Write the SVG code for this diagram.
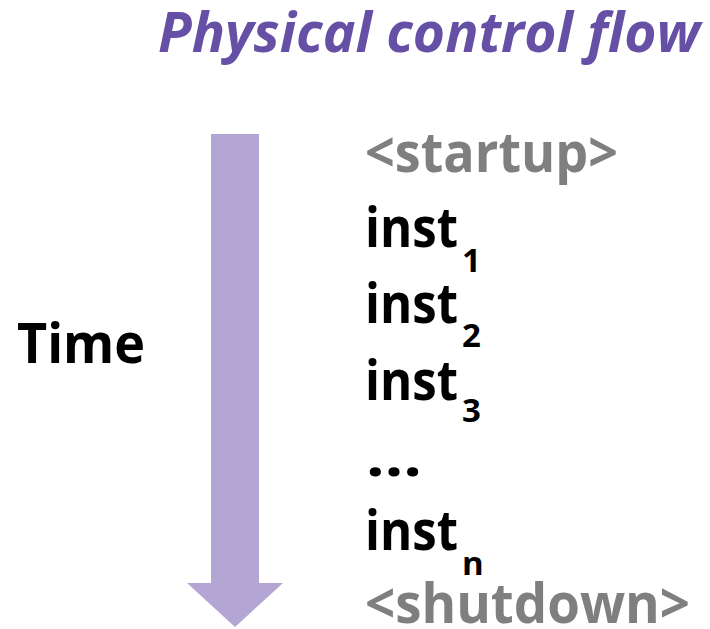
<svg xmlns="http://www.w3.org/2000/svg" width="710" height="629" viewBox="0 0 710 629">
  <style>
    .title { font-family: "Open Sans", "Liberation Sans", sans-serif; font-weight: 700; font-style: italic; font-size: 56px; fill: #6650A6; }
    .lbl { font-family: "Open Sans", "Liberation Sans", sans-serif; font-weight: 700; font-size: 56px; fill: #000000; }
    .gray { fill: #7F7F7F; }
    .sub { font-family: "Open Sans", "Liberation Sans", sans-serif; font-weight: 700; font-size: 33px; fill: #000000; }
  </style>
  <rect width="710" height="629" fill="#FFFFFF"/>

  <text class="title" x="158" y="52" textLength="542" lengthAdjust="spacingAndGlyphs">Physical control flow</text>

  <!-- time axis -->
  <g id="connectors">
    <polygon points="211,134 259,134 259,583 283,583 235,627 187,583 211,583" fill="#B3A6D4"/>
  </g>

  <g id="time">
    <text class="lbl" x="17" y="363" textLength="128" lengthAdjust="spacingAndGlyphs">Time</text>
  </g>

  <g id="startup">
    <text class="lbl gray" x="365" y="172" textLength="253" lengthAdjust="spacingAndGlyphs">&lt;startup&gt;</text>
  </g>
  <g id="inst1">
    <text class="lbl" x="365" y="247" textLength="93" lengthAdjust="spacingAndGlyphs">inst</text>
    <text class="sub" x="462" y="272">1</text>
  </g>
  <g id="inst2">
    <text class="lbl" x="365" y="323" textLength="93" lengthAdjust="spacingAndGlyphs">inst</text>
    <text class="sub" x="462" y="347">2</text>
  </g>
  <g id="inst3">
    <text class="lbl" x="365" y="400" textLength="93" lengthAdjust="spacingAndGlyphs">inst</text>
    <text class="sub" x="462" y="422">3</text>
  </g>
  <g id="ellipsis">
    <text class="lbl" x="366" y="476" textLength="56" lengthAdjust="spacingAndGlyphs">…</text>
  </g>
  <g id="instn">
    <text class="lbl" x="365" y="550" textLength="93" lengthAdjust="spacingAndGlyphs">inst</text>
    <text class="sub" x="462" y="575">n</text>
  </g>
  <g id="shutdown">
    <text class="lbl gray" x="365" y="623" textLength="325" lengthAdjust="spacingAndGlyphs">&lt;shutdown&gt;</text>
  </g>
</svg>
